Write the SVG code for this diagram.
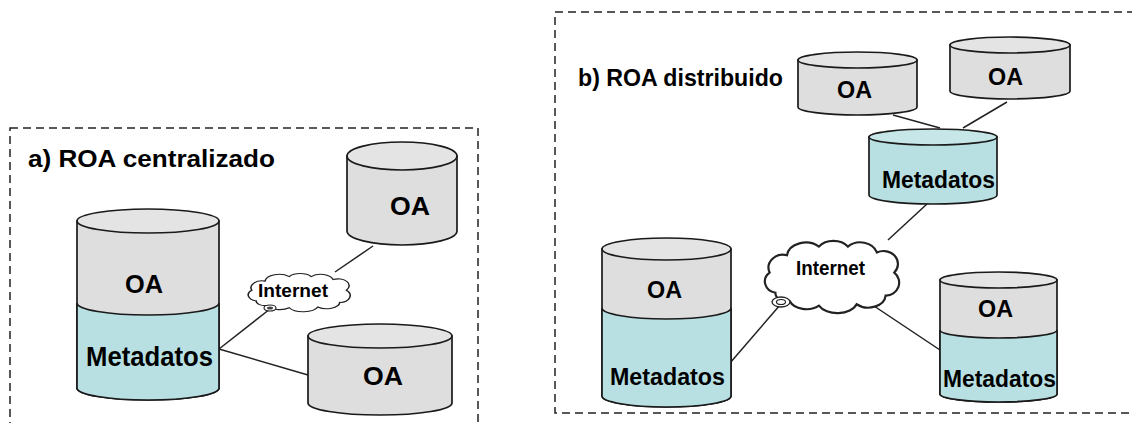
<svg xmlns="http://www.w3.org/2000/svg" width="1132" height="423" viewBox="0 0 1132 423">
<style>
.frame{fill:none;stroke:#222;stroke-width:1.5;stroke-dasharray:8 5}
.ln{stroke:#222;stroke-width:1.5;fill:none}
.body{stroke:#1a1a1a;stroke-width:1.7}
.g{fill:#dedede}
.gt{fill:#e4e4e4}
.c{fill:#b8e0e3}
.ct{fill:#c6e6e8}
.t{font-family:"Liberation Sans",Arial,sans-serif;font-weight:bold;fill:#000}
.cloud{fill:#fff;stroke:#222;stroke-width:1.5}
</style>
<defs>
<path id="cloudShape" d="M12,38 A9,8 0 0 1 8,24 A10,9 0 0 1 20,12 A13,10 0 0 1 42,6 A12,9 0 0 1 62,6 A12,10 0 0 1 82,10 A10,9 0 0 1 94,24 A9,9 0 0 1 88,40 A12,9 0 0 1 68,46 A14,9 0 0 1 42,47 A12,8 0 0 1 22,44 A8,6 0 0 1 12,38 Z"/>
</defs>
<rect class="frame" x="10" y="128" width="468" height="320"/>
<rect class="frame" x="555" y="12" width="600" height="401"/>
<text class="t" x="28" y="167" font-size="23" textLength="247" lengthAdjust="spacingAndGlyphs">a) ROA centralizado</text>
<text class="t" x="578" y="86" font-size="23" textLength="205" lengthAdjust="spacingAndGlyphs">b) ROA distribuido</text>
<g id="connectors">
<line class="ln" x1="219" y1="349" x2="270" y2="309"/>
<line class="ln" x1="219" y1="349" x2="308" y2="375"/>
<line class="ln" x1="335" y1="272" x2="373" y2="246"/>
<line class="ln" x1="893" y1="115" x2="940" y2="128"/>
<line class="ln" x1="1007" y1="102" x2="963" y2="128"/>
<line class="ln" x1="927" y1="204" x2="888" y2="240"/>
<line class="ln" x1="780" y1="305" x2="730" y2="363"/>
<line class="ln" x1="868" y1="302" x2="940" y2="350"/>
</g>
<g id="cloud-left">
<use href="#cloudShape" class="cloud" transform="translate(243,272) scale(1.1,0.76)" vector-effect="non-scaling-stroke" style="stroke-width:1.4"/>
<ellipse cx="270" cy="308" rx="6" ry="3" fill="#fff" stroke="#222" stroke-width="1.2"/>
<ellipse cx="270" cy="308" rx="3" ry="1.5" fill="#444"/>
<text class="t" x="258" y="297" font-size="19" textLength="70" lengthAdjust="spacingAndGlyphs">Internet</text>
</g>
<g id="cloud-right">
<use href="#cloudShape" class="cloud" transform="translate(758,238) scale(1.45,1.44)" vector-effect="non-scaling-stroke" style="stroke-width:1.5"/>
<ellipse cx="781" cy="302" rx="9" ry="5" fill="#fff" stroke="#222" stroke-width="1.3"/>
<ellipse cx="781" cy="302" rx="4.5" ry="2.5" fill="none" stroke="#222" stroke-width="1.2"/>
<text class="t" x="796" y="275" font-size="20" textLength="69" lengthAdjust="spacingAndGlyphs">Internet</text>
</g>
<g id="left-main">
<path class="body g" d="M77,221 V388 A71,12 0 0 0 219,388 V221 Z"/>
<path class="body c" d="M77,303 A71,12 0 0 0 219,303 V388 A71,12 0 0 1 77,388 Z"/>
<ellipse class="body gt" cx="148" cy="221" rx="71" ry="12"/>
<text class="t" x="125" y="293" font-size="26" textLength="38" lengthAdjust="spacingAndGlyphs">OA</text>
<text class="t" x="86" y="366" font-size="27" textLength="127" lengthAdjust="spacingAndGlyphs">Metadatos</text>
</g>
<g id="left-oa1">
<path class="body g" d="M347,156 V231 A55,14 0 0 0 457,231 V156 Z"/>
<ellipse class="body gt" cx="402" cy="156" rx="55" ry="14"/>
<text class="t" x="390" y="215" font-size="26" textLength="40" lengthAdjust="spacingAndGlyphs">OA</text>
</g>
<g id="left-oa2">
<path class="body g" d="M308,336 V403 A72,12 0 0 0 452,403 V336 Z"/>
<ellipse class="body gt" cx="380" cy="336" rx="72" ry="12"/>
<text class="t" x="363" y="385" font-size="26" textLength="40" lengthAdjust="spacingAndGlyphs">OA</text>
</g>
<g id="right-oa1">
<path class="body g" d="M798,60 V107 A59.5,8 0 0 0 917,107 V60 Z"/>
<ellipse class="body gt" cx="857.5" cy="60" rx="59.5" ry="8"/>
<text class="t" x="837" y="98" font-size="23" textLength="35" lengthAdjust="spacingAndGlyphs">OA</text>
</g>
<g id="right-oa2">
<path class="body g" d="M950,45 V91 A60,8 0 0 0 1070,91 V45 Z"/>
<ellipse class="body gt" cx="1010" cy="45" rx="60" ry="8"/>
<text class="t" x="988" y="85" font-size="23" textLength="35" lengthAdjust="spacingAndGlyphs">OA</text>
</g>
<g id="right-meta">
<path class="body c" d="M869,137 V195 A64,9 0 0 0 997,195 V137 Z"/>
<ellipse class="body ct" cx="933" cy="137" rx="64" ry="8"/>
<text class="t" x="882" y="188" font-size="23" textLength="113" lengthAdjust="spacingAndGlyphs">Metadatos</text>
</g>
<g id="right-main">
<path class="body g" d="M602,249 V396 A64.5,11 0 0 0 731,396 V249 Z"/>
<path class="body c" d="M602,308 A64.5,11 0 0 0 731,308 V396 A64.5,11 0 0 1 602,396 Z"/>
<ellipse class="body gt" cx="666.5" cy="249" rx="64.5" ry="11"/>
<text class="t" x="647" y="298" font-size="23" textLength="35" lengthAdjust="spacingAndGlyphs">OA</text>
<text class="t" x="610" y="385" font-size="23" textLength="115" lengthAdjust="spacingAndGlyphs">Metadatos</text>
</g>
<g id="right-node">
<path class="body g" d="M940,280 V394 A58.5,8 0 0 0 1057,394 V280 Z"/>
<path class="body c" d="M940,330 A58.5,8 0 0 0 1057,330 V394 A58.5,8 0 0 1 940,394 Z"/>
<ellipse class="body gt" cx="998.5" cy="280" rx="58.5" ry="8"/>
<text class="t" x="978" y="317" font-size="23" textLength="35" lengthAdjust="spacingAndGlyphs">OA</text>
<text class="t" x="943" y="387" font-size="23" textLength="113" lengthAdjust="spacingAndGlyphs">Metadatos</text>
</g>
</svg>
